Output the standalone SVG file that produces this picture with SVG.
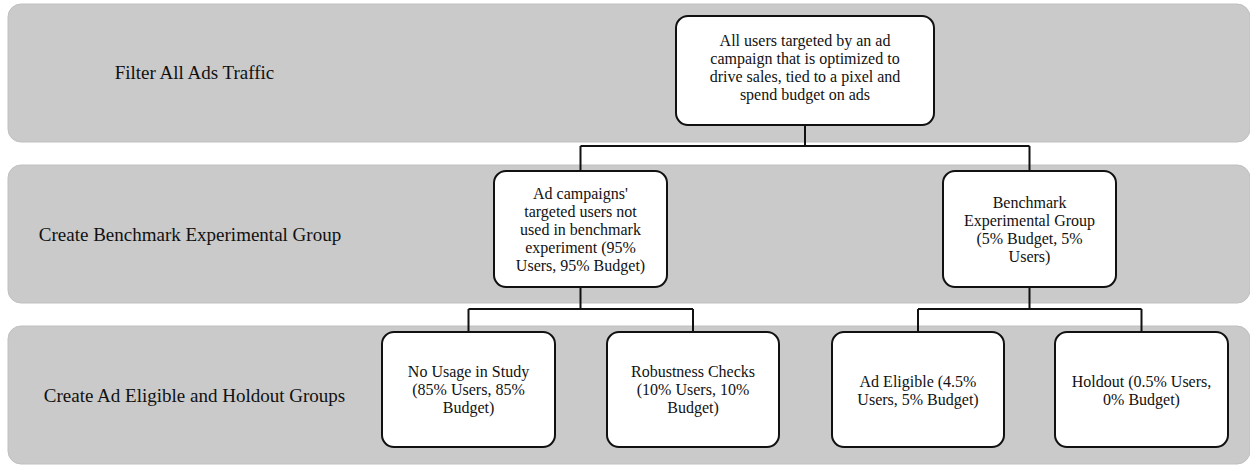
<svg xmlns="http://www.w3.org/2000/svg" width="1250" height="465" viewBox="0 0 1250 465">
<style>
.band{fill:#cacaca;stroke:#c0c0c0;stroke-width:1}
.lane{font-family:'Liberation Serif','Tinos','Times New Roman','DejaVu Serif',serif;font-size:19px;fill:#111;text-anchor:middle}
.box{fill:#fff;stroke:#111;stroke-width:2}
.t{font-family:'Liberation Serif','Tinos','Times New Roman','DejaVu Serif',serif;font-size:16px;fill:#111;text-anchor:middle}
.conn{fill:none;stroke:#111;stroke-width:2}
</style>
<rect width="1250" height="465" fill="#fff"/>
<g id="lanes">
<rect class="band" x="8" y="4" width="1242" height="138" rx="13"/>
<rect class="band" x="8" y="165" width="1242" height="138" rx="13"/>
<rect class="band" x="8" y="326" width="1242" height="138" rx="13"/>
<text class="lane" x="194.5" y="79">Filter All Ads Traffic</text>
<text class="lane" x="190" y="241">Create Benchmark Experimental Group</text>
<text class="lane" x="194.5" y="402">Create Ad Eligible and Holdout Groups</text>
</g>
<g id="connectors">
<path class="conn" d="M805,125 V146 M580.5,146 H1029.5 M580.5,146 V171 M1029.5,146 V171"/>
<path class="conn" d="M580.5,287 V309 M468.5,309 H693 M468.5,309 V332 M693,309 V332"/>
<path class="conn" d="M1029.5,287 V309 M918,309 H1141.5 M918,309 V332 M1141.5,309 V332"/>
</g>
<g id="root">
<rect class="box" x="676" y="16" width="258" height="109" rx="12"/>
<text class="t" x="805" y="46">All users targeted by an ad</text>
<text class="t" x="805" y="64">campaign that is optimized to</text>
<text class="t" x="805" y="82">drive sales, tied to a pixel and</text>
<text class="t" x="805" y="100">spend budget on ads</text>
</g>
<g id="not-used">
<rect class="box" x="494" y="171" width="173" height="116" rx="12"/>
<text class="t" x="580.5" y="199">Ad campaigns'</text>
<text class="t" x="580.5" y="217">targeted users not</text>
<text class="t" x="580.5" y="235">used in benchmark</text>
<text class="t" x="580.5" y="253">experiment (95%</text>
<text class="t" x="580.5" y="271">Users, 95% Budget)</text>
</g>
<g id="benchmark">
<rect class="box" x="943" y="171" width="173" height="116" rx="12"/>
<text class="t" x="1029.5" y="208">Benchmark</text>
<text class="t" x="1029.5" y="226">Experimental Group</text>
<text class="t" x="1029.5" y="244">(5% Budget, 5%</text>
<text class="t" x="1029.5" y="262">Users)</text>
</g>
<g id="no-usage">
<rect class="box" x="382" y="332" width="173" height="115" rx="12"/>
<text class="t" x="468.5" y="377">No Usage in Study</text>
<text class="t" x="468.5" y="395">(85% Users, 85%</text>
<text class="t" x="468.5" y="413">Budget)</text>
</g>
<g id="robustness">
<rect class="box" x="607" y="332" width="172" height="115" rx="12"/>
<text class="t" x="693" y="377">Robustness Checks</text>
<text class="t" x="693" y="395">(10% Users, 10%</text>
<text class="t" x="693" y="413">Budget)</text>
</g>
<g id="ad-eligible">
<rect class="box" x="832" y="332" width="172" height="115" rx="12"/>
<text class="t" x="918" y="387">Ad Eligible (4.5%</text>
<text class="t" x="918" y="405">Users, 5% Budget)</text>
</g>
<g id="holdout">
<rect class="box" x="1055" y="332" width="173" height="115" rx="12"/>
<text class="t" x="1141.5" y="387">Holdout (0.5% Users,</text>
<text class="t" x="1141.5" y="405">0% Budget)</text>
</g>
</svg>
